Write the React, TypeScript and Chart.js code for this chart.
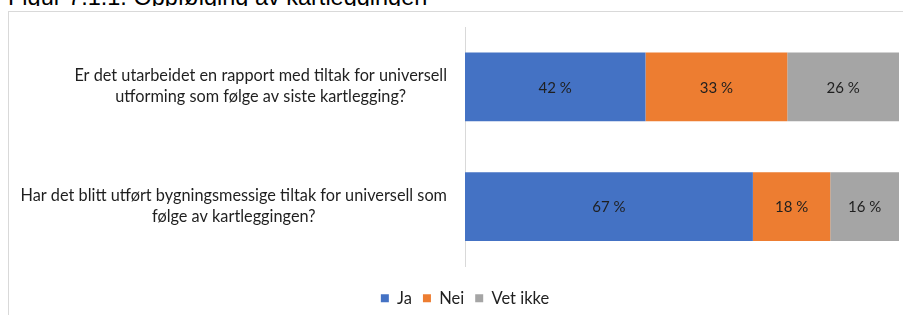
import React, { useEffect, useRef } from 'react';
import { Chart, registerables } from 'chart.js';

Chart.register(...registerables);

const TITLE = 'Figur 7.1.1. Oppfølging av kartleggingen';
const categories: string[][] = [
  ['Er det utarbeidet en rapport med tiltak for universell', 'utforming som følge av siste kartlegging?'],
  ['Har det blitt utført bygningsmessige tiltak for universell som', 'følge av kartleggingen?'],
];
const seriesNames = ['Ja', 'Nei', 'Vet ikke'];
const jaValues = [42, 67];
const neiValues = [33, 18];
const vetIkkeValues = [26, 16];
const seriesColors = ['#4472C4', '#ED7D31', '#A5A5A5'];

const FONT = 'Lato, "Noto Sans", sans-serif';
const TEXT_COLOR = '#1f1f1f';

const yLabelPlugin = {
  id: 'yLabels',
  afterDraw(chart: any) {
    const y = chart.scales.y;
    const ctx = chart.ctx;
    ctx.save();
    ctx.font = `16.3px ${FONT}`;
    ctx.fillStyle = TEXT_COLOR;
    ctx.textBaseline = 'alphabetic';
    ctx.textAlign = 'center';
    const right = chart.chartArea.left - 18;
    const lh = 21;
    categories.forEach((lines, i) => {
      const cy = y.getPixelForTick(i);
      const w = Math.max(...lines.map((l) => ctx.measureText(l).width));
      const cx = right - w / 2;
      lines.forEach((l, j) => {
        ctx.fillText(l, cx, cy + 5 + (j - (lines.length - 1) / 2) * lh);
      });
    });
    ctx.restore();
  },
};

const barLabelPlugin = {
  id: 'barLabels',
  afterDatasetsDraw(chart: any) {
    const ctx = chart.ctx;
    ctx.save();
    ctx.font = `15px ${FONT}`;
    ctx.fillStyle = TEXT_COLOR;
    ctx.textAlign = 'center';
    ctx.textBaseline = 'middle';
    chart.data.datasets.forEach((ds: any, di: number) => {
      const meta = chart.getDatasetMeta(di);
      meta.data.forEach((el: any, i: number) => {
        const { x, y, base } = el.getProps(['x', 'y', 'base'], true);
        ctx.fillText(`${ds.values[i]} %`, (x + base) / 2, y + 1);
      });
    });
    ctx.restore();
  },
};

export default function App() {
  const ref = useRef<HTMLCanvasElement | null>(null);

  useEffect(() => {
    if (!ref.current) return;
    const series = [jaValues, neiValues, vetIkkeValues];
    const totals = categories.map((_, i) => series.reduce((s, arr) => s + arr[i], 0));
    const chart = new Chart(ref.current, {
      type: 'bar',
      data: {
        labels: categories as any,
        datasets: series.map((vals, k) => ({
          label: seriesNames[k],
          data: vals.map((v, i) => (v / totals[i]) * 100),
          values: vals,
          backgroundColor: seriesColors[k],
          borderWidth: 0,
          categoryPercentage: 0.575,
          barPercentage: 1,
        })) as any,
      },
      options: {
        indexAxis: 'y',
        animation: false,
        responsive: false,
        maintainAspectRatio: false,
        layout: { padding: { left: 31, right: 4, top: 27, bottom: 3.5 } },
        scales: {
          x: {
            stacked: true,
            min: 0,
            max: 100,
            ticks: { display: false },
            grid: { display: false, drawTicks: false },
            border: { display: false },
            afterFit: (s: any) => {
              s.height = 12.5;
            },
          },
          y: {
            stacked: true,
            ticks: { display: false },
            grid: { display: false, drawTicks: false },
            border: { display: true, color: '#d9d9d9', width: 1 },
            afterFit: (s: any) => {
              s.width = 434;
            },
          },
        },
        plugins: {
          legend: {
            position: 'bottom',
            labels: {
              boxWidth: 8,
              boxHeight: 8,
              padding: 11,
              color: TEXT_COLOR,
              font: { family: FONT, size: 16.5 },
            },
          },
          tooltip: { enabled: false },
          title: { display: false },
        },
      } as any,
      plugins: [yLabelPlugin, barLabelPlugin],
    });
    return () => chart.destroy();
  }, []);

  return (
    <div
      style={{
        position: 'fixed',
        left: 0,
        top: 0,
        width: 903,
        height: 315,
        overflow: 'hidden',
        background: '#fff',
      }}
    >
      <div style={{ position: 'absolute', left: 8, top: 0, width: 600, height: 6, overflow: 'hidden' }}>
        <div
          style={{
            position: 'absolute',
            left: 0,
            top: -15,
            fontFamily: '"Liberation Sans", Arial, sans-serif',
            fontSize: '23.5px',
            lineHeight: '24px',
            whiteSpace: 'nowrap',
            color: '#000',
          }}
        >
          {TITLE}
        </div>
      </div>
      <div
        style={{
          position: 'absolute',
          left: 8,
          top: 11,
          width: 1000,
          height: 400,
          borderLeft: '1px solid #d9d9d9',
          borderTop: '1px solid #d9d9d9',
        }}
      />
      <canvas
        ref={ref}
        width={903}
        height={320}
        style={{ position: 'absolute', left: 0, top: 0, width: 903, height: 320 }}
      />
    </div>
  );
}
